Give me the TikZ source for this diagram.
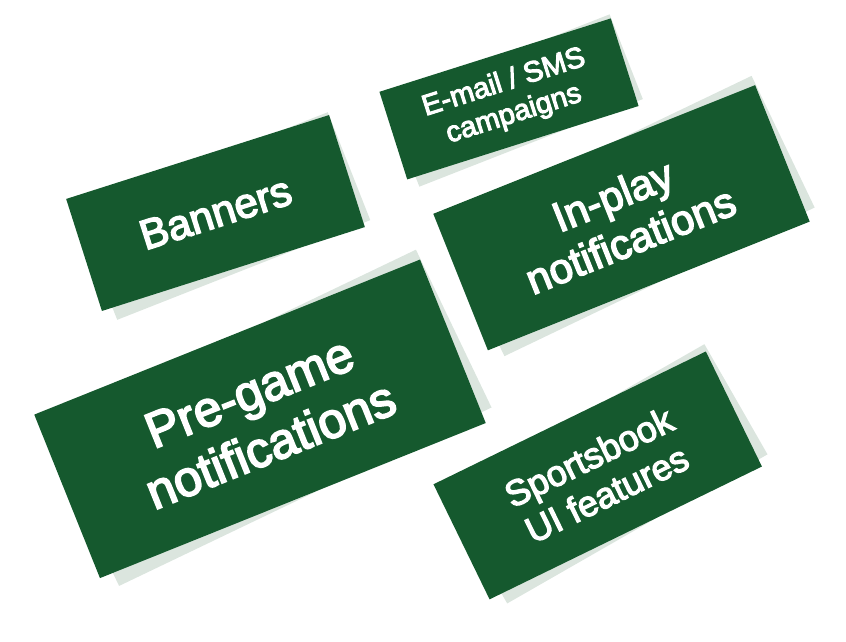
\documentclass[tikz,border=0pt]{standalone}
\usepackage{fontspec}
\setmainfont{Liberation Sans}[FakeBold=3.5]
\definecolor{boxgreen}{RGB}{21,89,46}
\definecolor{shadegreen}{RGB}{219,229,222}
\begin{document}
\begin{tikzpicture}[x=1pt,y=-1pt,
  card/.style={rectangle, inner sep=0pt, fill=boxgreen, text=white, align=center},
  cardshade/.style={rectangle, inner sep=0pt, fill=shadegreen},
  fs/.style 2 args={font=\fontsize{#1}{#2}\selectfont}]
\useasboundingbox (0,0) rectangle (846,641);

% tilted backing sheets
\node[cardshade, minimum width=272pt, minimum height=116pt, rotate=21.5] (banners-sh) at (222.5,216) {};
\node[cardshade, minimum width=240pt, minimum height=91pt, rotate=21.4] (email-sh) at (514.5,100.5) {};
\node[cardshade, minimum width=344pt, minimum height=146pt, rotate=25.6] (inplay-sh) at (628,216) {};
\node[cardshade, minimum width=413pt, minimum height=175pt, rotate=25.6] (pregame-sh) at (267.5,417.8) {};
\node[cardshade, minimum width=300pt, minimum height=127pt, rotate=29.8] (sportsbook-sh) at (605.8,473.8) {};

% cards
\node[card, minimum width=276pt, minimum height=117.6pt, rotate=17.7, fs={42}{47}] (banners) at (215.5,213) {Banners};
\node[card, minimum width=242.7pt, minimum height=91.9pt, rotate=17.6, fs={29}{33}] (email) at (509,98.9) {E-mail / SMS\\campaigns};
\node[card, minimum width=346.6pt, minimum height=147pt, rotate=21.8, fs={42}{48}] (inplay) at (621.5,217.7) {In-play\\notifications};
\node[card, minimum width=415.8pt, minimum height=176.2pt, rotate=21.9, fs={50}{57}] (pregame) at (260,418.8) {Pre-game\\notifications};
\node[card, minimum width=303pt, minimum height=128pt, rotate=26, fs={36}{41}] (sportsbook) at (597.7,475.4) {Sportsbook\\UI features};
\end{tikzpicture}
\end{document}
